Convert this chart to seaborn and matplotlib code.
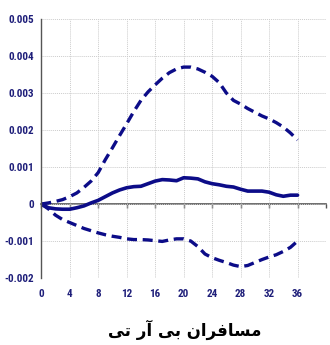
import numpy as np
import pandas as pd
import matplotlib
matplotlib.use("Agg")
import matplotlib.pyplot as plt
from matplotlib import font_manager
import seaborn as sns

# ---- data ----
periods = list(range(0, 37))
upper = [0, 0.00003, 0.00007, 0.00012, 0.0002, 0.0003, 0.00045, 0.00062, 0.00085,
         0.0012, 0.00152, 0.00185, 0.00217, 0.0025, 0.0028, 0.00303, 0.00322,
         0.0034, 0.00355, 0.00365, 0.0037, 0.0037, 0.00365, 0.00356, 0.00345,
         0.00328, 0.003, 0.0028, 0.0027, 0.00258, 0.00248, 0.00238, 0.0023,
         0.0022, 0.00208, 0.00192, 0.00173]
response = [0, -0.0001, -0.00013, -0.00014, -0.00014, -0.0001, -0.00005, 0.00003,
            0.0001, 0.0002, 0.0003, 0.00038, 0.00044, 0.00047, 0.00048, 0.00055,
            0.00062, 0.00066, 0.00065, 0.00063, 0.00071, 0.0007, 0.00068, 0.0006,
            0.00055, 0.00052, 0.00048, 0.00046, 0.0004, 0.00035, 0.00035, 0.00035,
            0.00032, 0.00025, 0.00021, 0.00024, 0.00024]
lower = [0, -0.00013, -0.0003, -0.00042, -0.0005, -0.00058, -0.00066, -0.00072,
         -0.00078, -0.00083, -0.00087, -0.0009, -0.00094, -0.00096, -0.00096,
         -0.00097, -0.00099, -0.00101, -0.00097, -0.00094, -0.00094, -0.001,
         -0.00115, -0.00135, -0.00145, -0.00152, -0.00158, -0.00165, -0.00169,
         -0.00166, -0.00158, -0.0015, -0.00143, -0.00137, -0.00128, -0.00117, -0.001]
y_ticks = [-0.002, -0.001, 0, 0.001, 0.002, 0.003, 0.004, 0.005]
y_labels = ["-0.002", "-0.001", "0", "0.001", "0.002", "0.003", "0.004", "0.005"]
x_ticks = list(range(0, 41, 4))
x_labels = ["0", "4", "8", "12", "16", "20", "24", "28", "32", "36", ""]
# "مسافران بی آر تی" written in Arabic presentation forms, visual order
caption = "\uFBFD\uFE97 \uFEAD\uFE81 \uFBFD\uFE91 \uFEE5\uFE8D\uFEAE\uFED3\uFE8E\uFEB4\uFEE3"

df = pd.DataFrame({
    "t": periods * 3,
    "v": upper + response + lower,
    "s": ["upper"] * len(periods) + ["resp"] * len(periods) + ["lower"] * len(periods),
})

sns.set_theme(style="white")
avail = {f.name for f in font_manager.fontManager.ttflist}
narrow = None
for cand in ["Liberation Sans Narrow", "DejaVu Sans Condensed", "Roboto Condensed",
             "Open Sans Condensed", "Noto Sans Condensed"]:
    if cand in avail:
        narrow = cand
        break
plt.rcParams["font.family"] = ([narrow] if narrow else []) + ["DejaVu Sans"]
stretch = "normal" if narrow else "condensed"

navy = "#0c0c88"
txt = "#1f1f7a"

fig = plt.figure(figsize=(3.3, 3.45), dpi=100)
ax = fig.add_axes([0.125, 0.194, 0.863, 0.751])

sns.lineplot(data=df[df.s == "resp"], x="t", y="v", ax=ax, color=navy, lw=2.6)
for key in ["upper", "lower"]:
    sns.lineplot(data=df[df.s == key], x="t", y="v", ax=ax, color=navy, lw=2.4,
                 dashes=False, linestyle=(0, (3.0, 1.7)))

ax.set_xlim(0, 40)
ax.set_ylim(-0.002, 0.005)
ax.set_xticks(x_ticks)
ax.set_xticklabels(x_labels)
ax.set_yticks(y_ticks)
ax.set_yticklabels(y_labels)
ax.set_xlabel("")
ax.set_ylabel("")
ax.grid(True, color="#cccccc", linestyle=(0, (1, 1)), lw=0.7)
for s in ["top", "right", "bottom"]:
    ax.spines[s].set_visible(False)
ax.spines["left"].set_color("#555555")
ax.spines["left"].set_linewidth(1.0)

ax.tick_params(axis="y", direction="out", length=3, width=1, color="#555555",
               labelcolor=txt, labelsize=8, pad=2)
ax.tick_params(axis="x", length=0, labelcolor=txt, labelsize=8, pad=8)
for lab in ax.get_xticklabels() + ax.get_yticklabels():
    lab.set_fontweight("bold")
    lab.set_fontstretch(stretch)

# zero axis line with ticks
sec = ax.secondary_xaxis(2 / 7)
sec.set_xticks(x_ticks)
sec.set_xticklabels([])
sec.tick_params(direction="out", length=3, width=1, color="#555555")
sec.spines["bottom"].set_color("#555555")
sec.spines["bottom"].set_linewidth(1.2)

fig.text(0.56, 0.045, caption, ha="center", va="center", fontsize=12,
         fontweight="bold", color="black", family=["DejaVu Sans"])

fig.savefig("out.png", dpi=100)
